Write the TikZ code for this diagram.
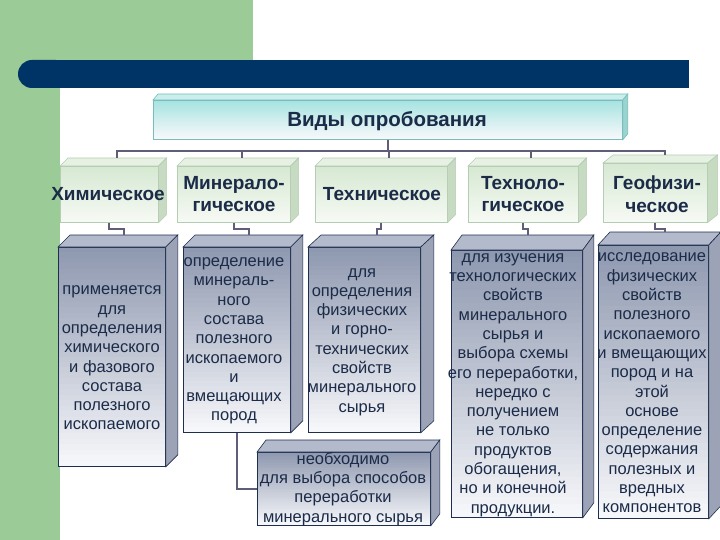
\documentclass[tikz,border=0pt]{standalone}
\usepackage{fontspec}
\setmainfont{Liberation Sans}
\usetikzlibrary{calc}
\definecolor{bggreen}{HTML}{9BCB96}
\definecolor{navy}{HTML}{003366}
\definecolor{titletop}{HTML}{A6E3E1}
\definecolor{titlebot}{HTML}{F6F8FA}
\definecolor{titleedge}{HTML}{78BDBA}
\definecolor{titleside}{HTML}{9AD3CF}
\definecolor{titletopf}{HTML}{C9EEEC}
\definecolor{ltop}{HTML}{D6E9D2}
\definecolor{lbot}{HTML}{F6F9F4}
\definecolor{ledge}{HTML}{B5CDB2}
\definecolor{lside}{HTML}{C6DBC2}
\definecolor{ltopf}{HTML}{E6F1E3}
\definecolor{mtop}{HTML}{8E98AF}
\definecolor{mbot}{HTML}{F6F7FA}
\definecolor{medge}{HTML}{1E2E4E}
\definecolor{mside}{HTML}{9CA3B6}
\definecolor{mtopf}{HTML}{B3BACB}
\definecolor{txt}{HTML}{1B2B48}
\definecolor{linec}{HTML}{5E5E78}
% vertical gradient (top colour -> bottom colour) drawn as strips, then the named box on top
\newcommand\gradnode[8]{%
  \foreach \i in {0,...,39} {%
    \pgfmathsetmacro\pct{100-\i*100/39}%
    \fill[#6!\pct!#7] (#2,{#3+#5*\i/40}) rectangle ({#2+#4},{min(#3+#5*(\i+1)/40+0.4,#3+#5)});
  }%
  \node[#8, minimum width=#4, minimum height=#5] (#1) at (#2,#3) {};
}
\newcommand\cubefaces[6]{%
  \filldraw[draw=#6, fill=#5, line width=0.6pt] (#1.north west) -- ++(#2,-#3) -- ($(#1.north east)+(#2,-#3)$) -- (#1.north east) -- cycle;
  \filldraw[draw=#6, fill=#4, line width=0.6pt] (#1.north east) -- ++(#2,-#3) -- ($(#1.south east)+(#2,-#3)$) -- (#1.south east) -- cycle;
}
\tikzset{
  conn/.style={draw=linec, line width=2pt},
  titlebox/.style={draw=titleedge, line width=0.8pt, inner sep=0, anchor=north west},
  lvtwo/.style={draw=ledge, line width=0.6pt, inner sep=0, anchor=north west},
  lvthree/.style={draw=medge, line width=0.8pt, inner sep=0, anchor=north west},
  titletxt/.style={font=\bfseries\fontsize{20.5}{24}\selectfont, text=txt},
  twotxt/.style={font=\bfseries\fontsize{19}{22.5}\selectfont, text=txt, align=center},
  threetxt/.style={font=\fontsize{16.5}{19.3}\selectfont, text=txt, align=center},
}
\begin{document}
\begin{tikzpicture}[x=1pt,y=-1pt]
\useasboundingbox (0,0) rectangle (720,540);
% background
\fill[bggreen] (0,0) rectangle (253,74);
\fill[bggreen] (0,0) rectangle (60,540);
\fill[navy, rounded corners=14] (18,60) rectangle (70,88);
\fill[navy] (50,60) rectangle (689,88);

% title
\gradnode{title}{153}{100}{469}{39}{titletop}{titlebot}{titlebox}
\cubefaces{title}{5}{6}{titleside}{titletopf}{titleedge}
\node[titletxt] (titletext) at (387,121) {Виды опробования};

% level 2 boxes
\gradnode{chem}{60}{166}{98}{56}{ltop}{lbot}{lvtwo}
\gradnode{mineral}{177}{166}{113}{56}{ltop}{lbot}{lvtwo}
\gradnode{tech}{315}{166}{132}{56}{ltop}{lbot}{lvtwo}
\gradnode{technol}{468}{166}{110}{56}{ltop}{lbot}{lvtwo}
\gradnode{geo}{603}{163}{104}{59}{ltop}{lbot}{lvtwo}
\cubefaces{chem}{8}{8}{lside}{ltopf}{ledge}
\cubefaces{mineral}{8}{8}{lside}{ltopf}{ledge}
\cubefaces{tech}{8}{8}{lside}{ltopf}{ledge}
\cubefaces{technol}{8}{8}{lside}{ltopf}{ledge}
\cubefaces{geo}{10}{8}{lside}{ltopf}{ledge}
\node[twotxt] (chemtxt) at (108,194) {Химическое};
\node[twotxt] (mineraltxt) at (234,194) {Минерало-\\гическое};
\node[twotxt] (techtxt) at (382,194) {Техническое};
\node[twotxt] (technoltxt) at (523,194) {Техноло-\\гическое};
\node[twotxt] (geotxt) at (657,194) {Геофизи-\\ческое};

% level 3 boxes
\gradnode{A}{58}{247}{107}{219}{mtop}{mbot}{lvthree}
\gradnode{B}{183}{247}{107}{185}{mtop}{mbot}{lvthree}
\gradnode{C}{308}{247}{112}{185}{mtop}{mbot}{lvthree}
\gradnode{D}{257}{452}{173}{73}{mtop}{mbot}{lvthree}
\gradnode{E}{451}{250}{131}{267}{mtop}{mbot}{lvthree}
\gradnode{F}{598}{245}{110}{273}{mtop}{mbot}{lvthree}
\cubefaces{A}{12}{12}{mside}{mtopf}{medge}
\cubefaces{B}{12}{12}{mside}{mtopf}{medge}
\cubefaces{C}{13}{12}{mside}{mtopf}{medge}
\cubefaces{D}{9}{12}{mside}{mtopf}{medge}
\cubefaces{E}{11}{15}{mside}{mtopf}{medge}
\cubefaces{F}{12}{13}{mside}{mtopf}{medge}

\node[threetxt] (Atxt) at (112,358) {применяется\\для\\определения\\химического\\и фазового\\состава\\полезного\\ископаемого};
\node[threetxt] (Btxt) at (234,341) {определение\\минераль-\\ного\\состава\\полезного\\ископаемого\\и\\вмещающих\\пород};
\node[threetxt] (Ctxt) at (362,342) {для\\определения\\физических\\и горно-\\технических\\свойств\\минерального\\сырья};
\node[threetxt] (Dtxt) at (343,489) {необходимо\\для выбора способов\\переработки\\минерального сырья};
\node[threetxt] (Etxt) at (513,385) {для изучения\\технологических\\свойств\\минерального\\сырья и\\выбора схемы\\его переработки,\\нередко с\\получением\\не только\\продуктов\\обогащения,\\но и конечной\\продукции.};
\node[threetxt] (Ftxt) at (652,383) {исследование\\физических\\свойств\\полезного\\ископаемого\\и вмещающих\\пород и на\\этой\\основе\\определение\\содержания\\полезных и\\вредных\\компонентов};

% connectors
\coordinate (chemT) at ($(chem.north)+(8,-8)$);
\coordinate (mineralT) at ($(mineral.north)+(8,-8)$);
\coordinate (techT) at ($(tech.north)+(8,-8)$);
\coordinate (technolT) at ($(technol.north)+(8,-8)$);
\coordinate (geoT) at ($(geo.north)+(10,-8)$);
\draw[conn] (title.south) -- ++(0,11) -| (chemT);
\draw[conn] (title.south) -- ++(0,11) -| (mineralT);
\draw[conn] (title.south) -- ++(0,11) -| (techT);
\draw[conn] (title.south) -- ++(0,11) -| (technolT);
\draw[conn] (title.south) -- ++(0,11) -| (geoT);

\coordinate (AT) at ($(A.north)+(12,-12)$);
\coordinate (BT) at ($(B.north)+(12,-12)$);
\coordinate (CT) at ($(C.north)+(13,-12)$);
\coordinate (ET) at ($(E.north)+(11,-15)$);
\coordinate (FT) at ($(F.north)+(12,-13)$);
\draw[conn] (chem.south) -- ++(0,6) -| (AT);
\draw[conn] (mineral.south) -- ++(0,6) -| (BT);
\draw[conn] (tech.south) -- ++(0,6) -| (CT);
\draw[conn] (technol.south) -- ++(0,6) -| (ET);
\draw[conn] (geo.south) -- ++(0,6) -| (FT);
\draw[conn] (B.south) |- (D.west);
\end{tikzpicture}
\end{document}
